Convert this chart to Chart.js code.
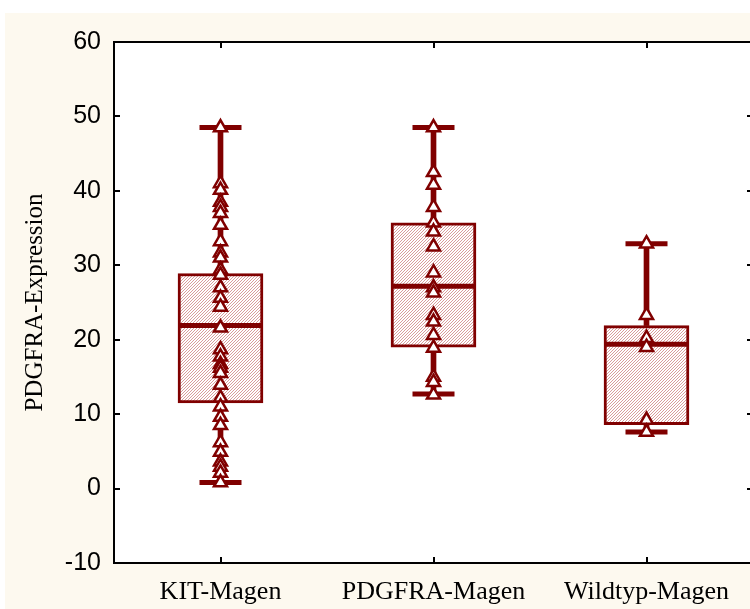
<!DOCTYPE html>
<html>
<head>
<meta charset="utf-8">
<script src="https://cdn.jsdelivr.net/npm/chart.js@4.4.1/dist/chart.umd.min.js"></script>
<style>
html,body{margin:0;padding:0;background:#ffffff;overflow:hidden;width:750px;height:609px;}
#wrap{position:absolute;left:0;top:0;width:760px;height:609px;}
</style>
</head>
<body>
<div id="wrap"><canvas id="c" width="760" height="609"></canvas></div>
<script>
// ---- data ----
const categories = ['KIT-Magen', 'PDGFRA-Magen', 'Wildtyp-Magen'];
const whiskerMin = [0.8, 12.7, 7.6];
const quartile1 = [11.5, 19.0, 8.6];
const medianVals = [21.9, 27.2, 19.4];
const quartile3 = [28.9, 35.7, 21.9];
const whiskerMax = [48.5, 48.5, 32.9];
const kitPoints = [48.5, 41.0, 40.1, 38.5, 37.8, 37.0, 35.4, 33.2, 31.7, 31.0, 29.4, 28.7, 27.0, 25.6, 24.4, 21.6, 18.7, 17.7, 16.7, 16.2, 15.5, 13.9, 12.2, 11.0, 9.6, 8.5, 6.2, 4.9, 3.6, 2.9, 2.1, 0.8];
const pdgfraPoints = [48.5, 42.5, 40.8, 37.8, 35.7, 34.5, 32.5, 29.0, 27.0, 26.3, 23.3, 22.4, 20.6, 18.9, 15.0, 14.3, 12.6];
const wildtypPoints = [32.9, 23.3, 20.2, 19.0, 9.2, 7.6];
const yTickValues = [-10, 0, 10, 20, 30, 40, 50, 60];
const yTitle = 'PDGFRA-Expression';

const DARK = '#800000';

function makeHatch() {
  const t = document.createElement('canvas');
  t.width = 3; t.height = 3;
  const g = t.getContext('2d');
  g.fillStyle = '#ffffff'; g.fillRect(0, 0, 3, 3);
  g.fillStyle = '#d99c9c';
  for (let i = 0; i < 3; i++) g.fillRect(i, 2 - i, 1, 1);
  return g.createPattern(t, 'repeat');
}

const pointSets = [kitPoints, pdgfraPoints, wildtypPoints];
const scatterData = [];
pointSets.forEach((arr, i) => arr.forEach(v => scatterData.push({x: categories[i], y: v})));

const bgPlugin = {
  id: 'bg',
  beforeDraw(chart) {
    const ctx = chart.ctx, a = chart.chartArea;
    ctx.save();
    ctx.fillStyle = '#fdf9ef';
    ctx.fillRect(5, 13, chart.width - 5, chart.height - 13);
    ctx.fillStyle = '#ffffff';
    ctx.fillRect(a.left, a.top, a.right - a.left, a.bottom - a.top);
    ctx.restore();
  },
  afterDraw(chart) {
    const ctx = chart.ctx, a = chart.chartArea;
    const ys = chart.scales.y, xs = chart.scales.x;
    ctx.save();
    ctx.strokeStyle = '#000';
    ctx.lineWidth = 2;
    ctx.strokeRect(a.left, a.top, a.right - a.left, a.bottom - a.top);
    ctx.beginPath();
    ys.ticks.forEach(t => {
      const y = Math.round(ys.getPixelForValue(t.value));
      ctx.moveTo(a.left, y); ctx.lineTo(a.left + 6, y);
      ctx.moveTo(a.right - 6, y); ctx.lineTo(a.right, y);
    });
    categories.forEach((c, i) => {
      const x = Math.round(xs.getPixelForValue(i));
      ctx.moveTo(x, a.top); ctx.lineTo(x, a.top + 6);
      ctx.moveTo(x, a.bottom); ctx.lineTo(x, a.bottom - 6);
    });
    ctx.stroke();
    ctx.restore();
  }
};

new Chart(document.getElementById('c'), {
  data: {
    labels: categories,
    datasets: [
      {
        type: 'bar', label: 'box', order: 5, grouped: false,
        data: categories.map((c, i) => [quartile1[i], quartile3[i]]),
        backgroundColor: makeHatch(), borderColor: DARK, borderWidth: 3,
        borderSkipped: false, barThickness: 85
      },
      {
        type: 'bar', label: 'lowerWhisker', order: 4, grouped: false,
        data: categories.map((c, i) => [whiskerMin[i], quartile1[i]]),
        backgroundColor: DARK, borderWidth: 0, barThickness: 5
      },
      {
        type: 'bar', label: 'upperWhisker', order: 4, grouped: false,
        data: categories.map((c, i) => [quartile3[i], whiskerMax[i]]),
        backgroundColor: DARK, borderWidth: 0, barThickness: 5
      },
      {
        type: 'line', label: 'median', order: 3, showLine: false,
        data: categories.map((c, i) => ({x: c, y: medianVals[i]})),
        pointStyle: 'line', pointRadius: 42, borderColor: DARK, pointBorderWidth: 5, borderWidth: 5
      },
      {
        type: 'line', label: 'caps', order: 2, showLine: false,
        data: categories.map((c, i) => ({x: c, y: whiskerMax[i]})).concat(categories.map((c, i) => ({x: c, y: whiskerMin[i]}))),
        pointStyle: 'line', pointRadius: 21, borderColor: DARK, pointBorderWidth: 5, borderWidth: 5
      },
      {
        type: 'line', label: 'points', order: 0, showLine: false,
        data: scatterData,
        pointStyle: 'triangle', pointRadius: 7.5, pointBorderWidth: 2.5,
        pointBackgroundColor: '#ffffff', pointBorderColor: DARK
      }
    ]
  },
  options: {
    responsive: false,
    animation: false,
    devicePixelRatio: 1,
    events: [],
    layout: {autoPadding: false, padding: {left: 0, top: 42, right: 7, bottom: 0}},
    plugins: {legend: {display: false}, tooltip: {enabled: false}},
    scales: {
      x: {
        type: 'category', offset: true,
        grid: {display: false, drawTicks: false},
        border: {display: false},
        ticks: {color: '#000', padding: 14, font: {family: 'Liberation Serif', size: 26}},
        afterFit(s) { s.height = 46; s.paddingLeft = 0; s.paddingRight = 0; }
      },
      y: {
        type: 'linear', min: -10, max: 60,
        afterBuildTicks(s) { s.ticks = yTickValues.map(v => ({value: v})); },
        grid: {display: false, drawTicks: false},
        border: {display: false},
        ticks: {color: '#000', padding: 13, font: {family: 'Liberation Sans', size: 25}},
        title: {display: true, text: yTitle, color: '#000', padding: {top: 20, bottom: 0}, font: {family: 'Liberation Serif', size: 25}},
        afterFit(s) { s.width = 114; s.paddingTop = 0; s.paddingBottom = 0; }
      }
    }
  },
  plugins: [bgPlugin]
});
</script>
</body>
</html>
